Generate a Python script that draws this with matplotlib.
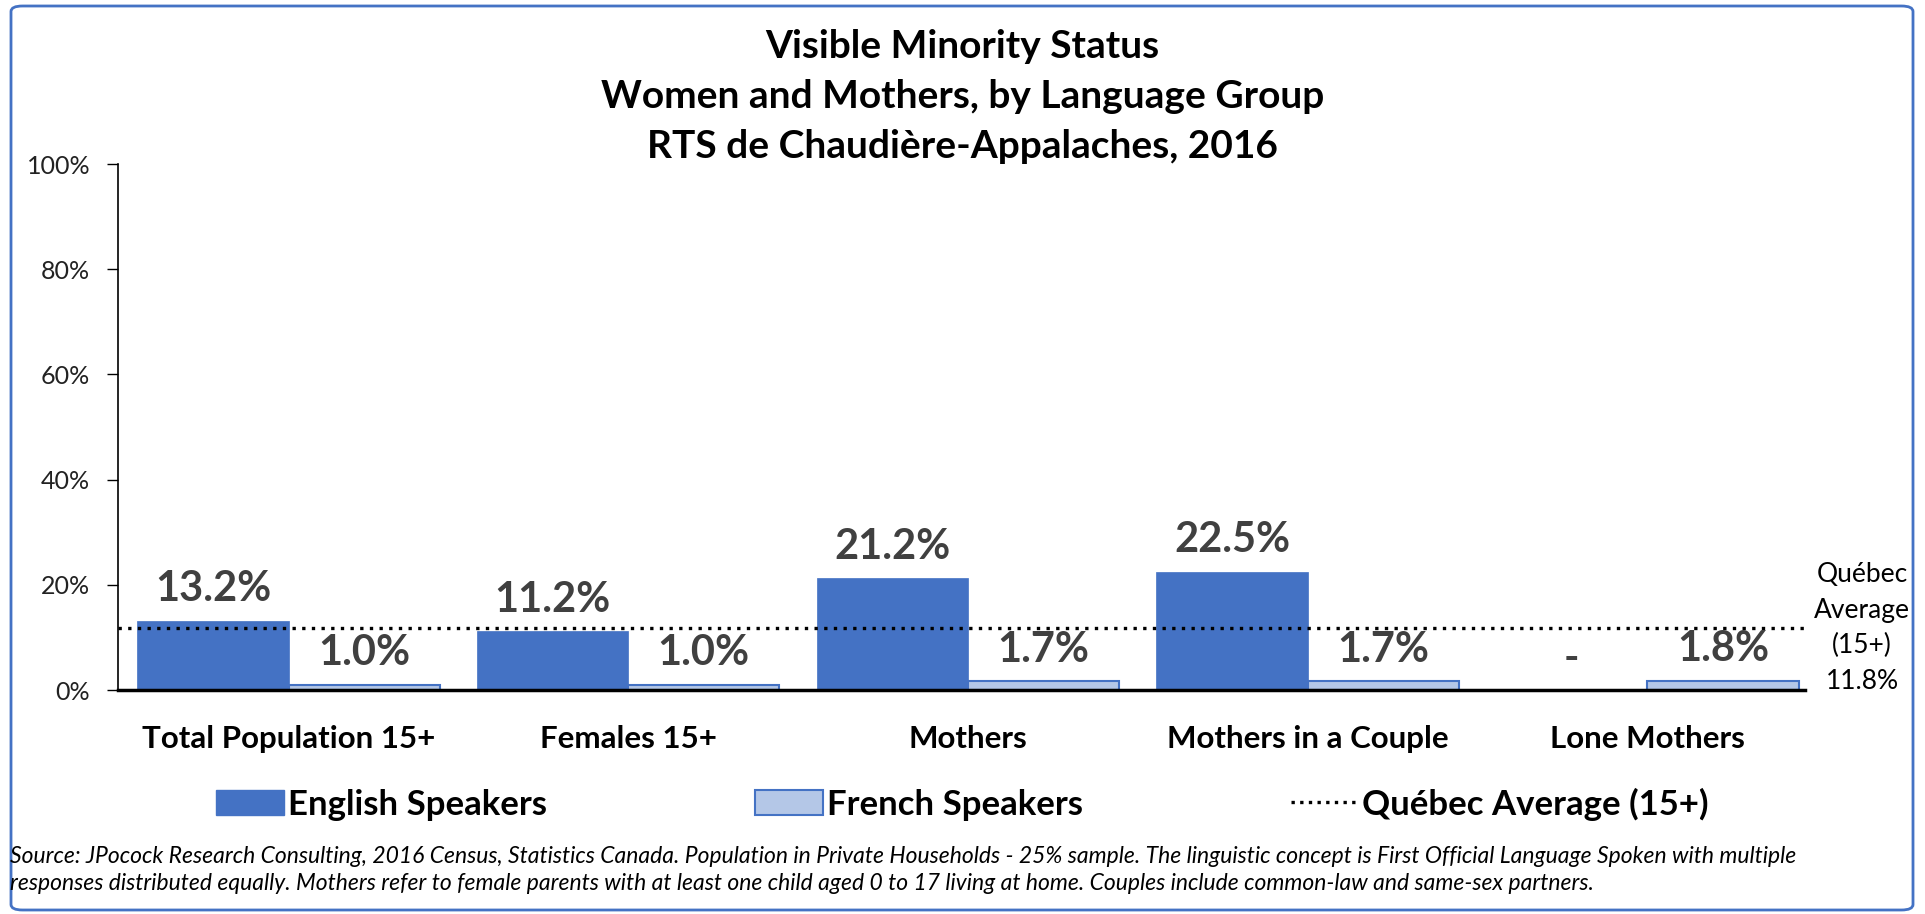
import matplotlib
matplotlib.use("Agg")
import matplotlib.pyplot as plt
from matplotlib.patches import FancyBboxPatch, Patch
from matplotlib.lines import Line2D
import numpy as np

plt.rcParams['font.family'] = ['Lato', 'DejaVu Sans']

categories = ["Total Population 15+", "Females 15+", "Mothers", "Mothers in a Couple", "Lone Mothers"]
english = [13.2, 11.2, 21.2, 22.5, 0.0]
french = [1.0, 1.0, 1.7, 1.7, 1.8]
english_labels = ["13.2%", "11.2%", "21.2%", "22.5%", "-"]
french_labels = ["1.0%", "1.0%", "1.7%", "1.7%", "1.8%"]
quebec_avg = 11.8
yticks = [0, 20, 40, 60, 80, 100]
ytick_labels = ["0%", "20%", "40%", "60%", "80%", "100%"]
title_lines = ["Visible Minority Status", "Women and Mothers, by Language Group",
               "RTS de Chaudière-Appalaches, 2016"]
source_text = ("Source: JPocock Research Consulting, 2016 Census, Statistics Canada. Population in Private Households - 25% sample. "
               "The linguistic concept is First Official Language Spoken with multiple\n"
               "responses distributed equally. Mothers refer to female parents with at least one child aged 0 to 17 living at home. "
               "Couples include common-law and same-sex partners.")

BLUE = "#4472C4"
LIGHT = "#B4C7E7"
LABEL_GREY = "#404040"

fig = plt.figure(figsize=(19.25, 9.14), dpi=100)
ax = fig.add_axes([118/1925, 1 - 690/914, (1805-118)/1925, (690-164)/914])

x = np.arange(len(categories))
w = 0.445
off = 0.2225
b1 = ax.bar(x - off, english, width=w, color=BLUE, edgecolor=BLUE, linewidth=0.5, zorder=2)
b2 = ax.bar(x + off, french, width=w, color=LIGHT, edgecolor=BLUE, linewidth=1.5, zorder=2)

for rect, lab in zip(b1, english_labels):
    ax.annotate(lab, (rect.get_x() + rect.get_width()/2, rect.get_height()),
                xytext=(0, 9), textcoords="offset points", ha="center", va="bottom",
                fontsize=30, fontweight="bold", color=LABEL_GREY, zorder=4)
for rect, lab in zip(b2, french_labels):
    ax.annotate(lab, (rect.get_x() + rect.get_width()/2, rect.get_height()),
                xytext=(0, 9), textcoords="offset points", ha="center", va="bottom",
                fontsize=30, fontweight="bold", color=LABEL_GREY, zorder=4)

ax.axhline(quebec_avg, color="black", linestyle=(0, (1, 1.9)), linewidth=2.4, zorder=3)

ax.set_xlim(-0.502, 4.464)
ax.set_ylim(0, 100)
ax.set_yticks(yticks)
ax.set_yticklabels(ytick_labels, fontsize=18, color="#222222")
ax.set_xticks(x)
ax.set_xticklabels(categories, fontsize=22.5, fontweight="bold", color="black")
ax.tick_params(axis="x", length=0, pad=25)
ax.tick_params(axis="y", length=8, width=1, direction="out", pad=12)
for s in ["top", "right"]:
    ax.spines[s].set_visible(False)
ax.spines["left"].set_linewidth(1.2)
ax.spines["bottom"].set_linewidth(2.5)

# Right-side annotation
fig.text(1862/1925, 1 - 628/914, "Québec\nAverage\n(15+)\n11.8%", ha="center", va="center",
         fontsize=19, linespacing=1.52, color="black")

# Titles
for i, t in enumerate(title_lines):
    fig.text(0.5, 1 - (47 + 50*i)/914, t, ha="center", va="center", fontsize=28,
             fontweight="bold", color="black")

# Legend
handles = [Patch(facecolor=BLUE, edgecolor=BLUE),
           Patch(facecolor=LIGHT, edgecolor=BLUE, linewidth=1.5),
           Line2D([0], [0], color="black", linestyle=(0, (1, 1.6)), linewidth=2.4)]
leg = fig.legend(handles, ["English Speakers", "French Speakers", "Québec Average (15+)"],
                 loc="center", bbox_to_anchor=(0.5, 1 - 804/914), ncol=3, frameon=False,
                 prop={"size": 25, "weight": "bold"}, handlelength=1.96, handleheight=0.75,
                 handletextpad=0.1, columnspacing=6.0)

# Source
fig.text(10/1925, 1 - 870/914, source_text, ha="left", va="center", fontsize=16.5,
         style="italic", linespacing=1.3, color="black")

# Frame border
fig.patches.append(FancyBboxPatch((11/1925, 4/914), (1913-11)/1925, (908-4)/914,
                                  boxstyle="round,pad=0,rounding_size=0.006",
                                  transform=fig.transFigure, fill=False,
                                  edgecolor=BLUE, linewidth=2))

fig.savefig("out.png", dpi=100)
